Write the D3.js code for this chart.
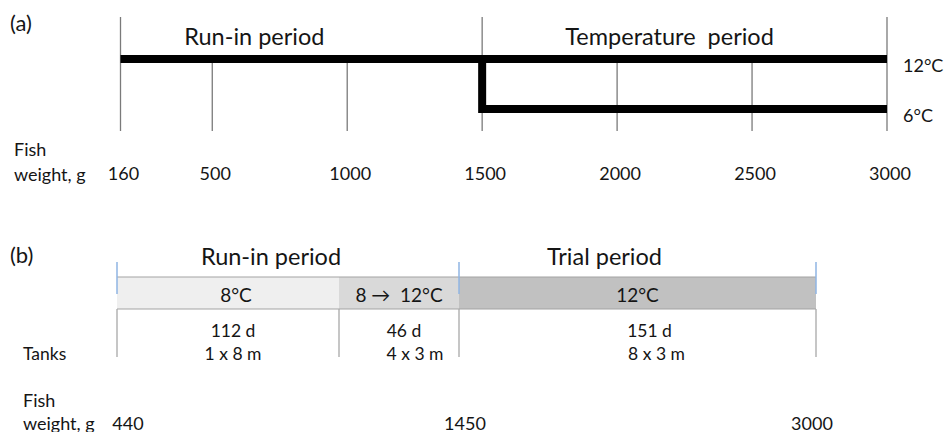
<!DOCTYPE html>
<html>
<head>
<meta charset="utf-8">
<script src="https://cdn.jsdelivr.net/npm/d3@7"></script>
<style>
  body { margin: 0; background: #fff; }
  svg { display: block; font-family: Lato, "Open Sans", sans-serif; }
  text { fill: #151515; }
</style>
</head>
<body>
<svg width="947" height="432"></svg>
<script>
  // panel (a): fish weight timeline with two temperature groups
  const aWeights = [160, 500, 1000, 1500, 2000, 2500, 3000];
  const aBounds = [160, 1500, 3000];
  const aPeriods = ['Run-in period', 'Temperature\u00a0\u00a0period'];
  const aTemps = [12, 6];
  const aLines = [
    [[160, 12], [3000, 12]],
    [[1500, 12], [1500, 6], [3000, 6]]
  ];

  // panel (b): run-in and trial phases
  const bPeriods = ['Run-in period', 'Trial period'];
  const bTemps = ['8°C', '8 \u2192\u00a0 12°C', '12°C'];
  const bDays = [112, 46, 151];
  const bTanks = ['1 x 8 m', '4 x 3 m', '8 x 3 m'];
  const bWeights = [440, 1450, 3000];
  const bWeightDay = [0, 158, 309];

  const svg = d3.select('svg');

  // ---------- (a)
  const xa = d3.scaleLinear().domain([160, 3000]).range([120.5, 887]);
  const ya = d3.scaleLinear().domain([6, 12]).range([109, 59]);

  const ga = svg.append('g');
  ga.append('text').attr('x', 10).attr('y', 31).attr('font-size', 22).text('(a)');

  ga.selectAll('.tick-line').data(aWeights).enter().append('line')
      .attr('x1', d => xa(d)).attr('x2', d => xa(d))
      .attr('y1', d => aBounds.includes(d) ? 17 : ya(12))
      .attr('y2', 131)
      .attr('stroke', '#7a7a7a').attr('stroke-width', 1.3);

  const line = d3.line().x(d => xa(d[0])).y(d => ya(d[1]));
  ga.selectAll('.temp-line').data(aLines).enter().append('path')
      .attr('d', line)
      .attr('fill', 'none').attr('stroke', '#000')
      .attr('stroke-width', 8).attr('stroke-linejoin', 'miter');

  ga.selectAll('.temp-label').data(aTemps).enter().append('text')
      .attr('x', 903).attr('y', d => ya(d) + 13)
      .attr('font-size', 18).text(d => d + '°C');

  ga.selectAll('.period').data(aPeriods).enter().append('text')
      .attr('x', (d, i) => (xa(aBounds[i]) + xa(aBounds[i + 1])) / 2 + [-47, -15][i])
      .attr('y', 45).attr('text-anchor', 'middle').attr('font-size', 23.5)
      .text(d => d);

  ga.append('text').attr('x', 14).attr('y', 156).attr('font-size', 18).text('Fish');
  ga.append('text').attr('x', 14).attr('y', 181).attr('font-size', 18).text('weight, g');
  ga.selectAll('.wt').data(aWeights).enter().append('text')
      .attr('x', d => xa(d) + 3).attr('y', 180)
      .attr('text-anchor', 'middle').attr('font-size', 18)
      .text(d => d);

  // ---------- (b)
  const cum = [0];
  bDays.forEach(d => cum.push(cum[cum.length - 1] + d));
  const xb = d3.scaleLinear().domain(cum).range([117, 339, 459, 816]);
  const bandTop = 277, bandH = 32;
  const fills = ['#efefef', '#d9d9d9', '#c1c1c1'];

  const gb = svg.append('g');
  gb.append('text').attr('x', 10).attr('y', 263).attr('font-size', 22).text('(b)');

  gb.selectAll('.seg').data(bDays).enter().append('rect')
      .attr('x', (d, i) => xb(cum[i])).attr('y', bandTop)
      .attr('width', (d, i) => xb(cum[i + 1]) - xb(cum[i]))
      .attr('height', bandH)
      .attr('fill', (d, i) => fills[i]);
  [bandTop, bandTop + bandH].forEach(y => {
    gb.append('line').attr('x1', xb(0)).attr('x2', xb(cum[3]))
        .attr('y1', y).attr('y2', y)
        .attr('stroke', '#a3a3a3').attr('stroke-width', 1.2);
  });

  // phase boundaries: blue above the band, grey below
  gb.selectAll('.bnd').data(cum).enter().append('line')
      .attr('x1', d => xb(d)).attr('x2', d => xb(d))
      .attr('y1', bandTop + bandH).attr('y2', 357)
      .attr('stroke', '#a8a8a8').attr('stroke-width', 1.3);
  gb.selectAll('.bnd-blue').data(bWeightDay).enter().append('line')
      .attr('x1', d => xb(d)).attr('x2', d => xb(d))
      .attr('y1', 262).attr('y2', 294)
      .attr('stroke', '#8fb4e3').attr('stroke-width', 1.5);

  gb.selectAll('.period').data(bPeriods).enter().append('text')
      .attr('x', (d, i) => (xb(bWeightDay[i]) + xb(bWeightDay[i + 1])) / 2 + [-17, -33][i])
      .attr('y', 265).attr('text-anchor', 'middle').attr('font-size', 23.5)
      .text(d => d);

  const mid = i => (xb(cum[i]) + xb(cum[i + 1])) / 2;
  gb.selectAll('.temp').data(bTemps).enter().append('text')
      .attr('x', (d, i) => mid(i) + [8, 0, 0][i]).attr('y', 302)
      .attr('text-anchor', 'middle').attr('font-size', 19)
      .text(d => d);
  gb.selectAll('.days').data(bDays).enter().append('text')
      .attr('x', (d, i) => mid(i) + [5, 5, 12][i]).attr('y', 337)
      .attr('text-anchor', 'middle').attr('font-size', 17.5)
      .text(d => d + ' d');
  gb.selectAll('.tanks').data(bTanks).enter().append('text')
      .attr('x', (d, i) => mid(i) + [5, 16, 19][i]).attr('y', 360)
      .attr('text-anchor', 'middle').attr('font-size', 17.5)
      .text(d => d);

  gb.append('text').attr('x', 23).attr('y', 360).attr('font-size', 17.5).text('Tanks');
  gb.append('text').attr('x', 23).attr('y', 407).attr('font-size', 18).text('Fish');
  gb.append('text').attr('x', 23).attr('y', 430).attr('font-size', 18).text('weight, g');
  gb.selectAll('.wt').data(bWeights).enter().append('text')
      .attr('x', (d, i) => xb(bWeightDay[i]) + [11, 6, -4][i]).attr('y', 430)
      .attr('text-anchor', 'middle').attr('font-size', 18)
      .text(d => d);
</script>
</body>
</html>
